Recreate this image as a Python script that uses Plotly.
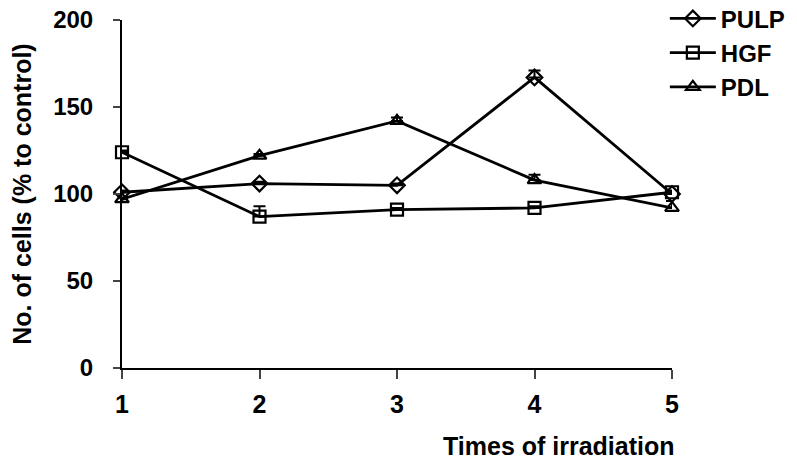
import plotly.graph_objects as go

times = [1, 2, 3, 4, 5]
pulp = [101, 106, 105, 167, 100]
pulp_err = [1, 1, 1, 4, 1]
hgf = [124, 87, 91, 92, 101]
hgf_err = [1, 6, 1, 1, 1]
pdl = [97, 122, 142, 108, 92]
pdl_err = [1, 1, 2, 3, 4]

series = [
    ("PULP", pulp, pulp_err, "diamond-open"),
    ("HGF", hgf, hgf_err, "square-open"),
    ("PDL", pdl, pdl_err, "triangle-up-open"),
]

fig = go.Figure()
for name, vals, err, sym in series:
    fig.add_trace(go.Scatter(
        x=times, y=vals, name=name, mode="lines+markers",
        legendgroup=name,
        line=dict(color="black", width=2.8),
        marker=dict(symbol=sym, size=12, color="black", line=dict(width=2.2, color="black")),
        error_y=dict(type="data", symmetric=False, array=err,
                     arrayminus=[0] * len(err), color="black", thickness=2, width=6),
        cliponaxis=False,
    ))

fam = "Liberation Sans, Arial, sans-serif"
fig.update_layout(
    width=797, height=464,
    margin=dict(l=114, r=133, t=12, b=104, autoexpand=False),
    paper_bgcolor="white", plot_bgcolor="white",
    font=dict(family=fam, size=24, color="black", weight="bold"),
    showlegend=True,
    legend=dict(x=0.987, y=1.068, xref="paper", yref="paper", xanchor="left", yanchor="top",
                font=dict(size=24, family=fam, weight="bold"), itemwidth=46,
                tracegroupgap=0, bgcolor="rgba(0,0,0,0)"),
    xaxis=dict(range=[1, 5], tickvals=times, ticks="outside", ticklen=9, tickwidth=2,
               showline=True, linecolor="black", linewidth=2, showgrid=False, zeroline=False,
               automargin=False, ticklabeloverflow="allow",
               tickfont=dict(size=25, weight="bold", family=fam), ticklabelstandoff=4),
    yaxis=dict(range=[0, 200], tickvals=[0, 50, 100, 150, 200], ticks="outside", ticklen=7,
               tickwidth=2, showline=True, linecolor="black", linewidth=2, showgrid=False,
               zeroline=False, automargin=False, ticklabeloverflow="allow",
               tickfont=dict(size=24, weight="bold", family=fam), ticklabelstandoff=15,
               title=dict(text="No. of cells (% to control)", standoff=20,
                          font=dict(size=25, weight="bold", family=fam))),
    annotations=[dict(text="Times of irradiation", xref="paper", yref="paper",
                      x=1.009, y=-0.224, xanchor="right", yanchor="middle", showarrow=False,
                      font=dict(size=25, weight="bold", family=fam))],
)

fig.write_html("out.html")
